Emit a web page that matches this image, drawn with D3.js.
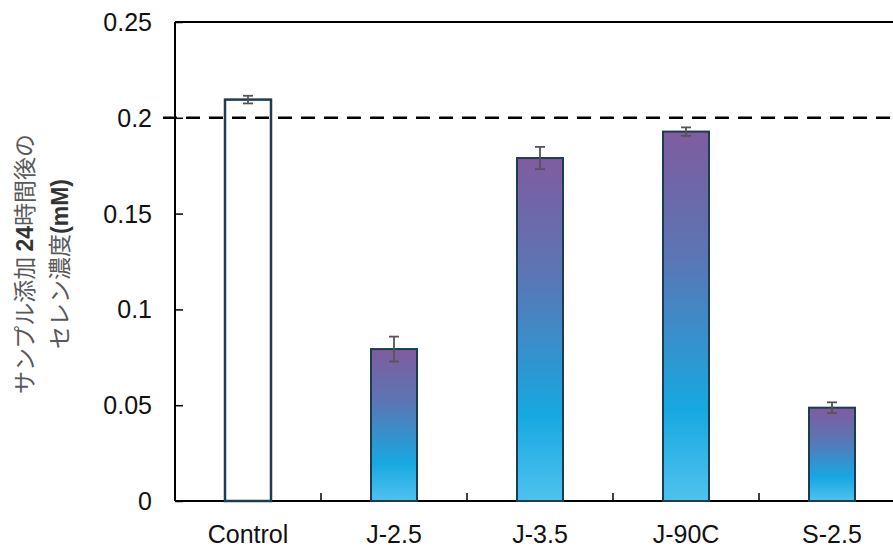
<!DOCTYPE html>
<meta charset="utf-8">
<head>
<style>
  body { margin: 0; background: #fff; }
  text { font-family: "Liberation Sans", Arial, sans-serif; }
  .jp { font-family: "Noto Sans CJK JP", sans-serif; fill: #595959; }
</style>
</head>
<body>
<div id="vis"></div>
<script src="https://d3js.org/d3.v7.min.js"></script>
<script>
// data
var categories = ["Control", "J-2.5", "J-3.5", "J-90C", "S-2.5"];
var values = [0.2095, 0.0793, 0.1790, 0.1928, 0.0487];
var errors = [0.0020, 0.0065, 0.0058, 0.0022, 0.0028];
var yTicks = [0, 0.05, 0.1, 0.15, 0.2, 0.25];
var refLine = 0.2;

var width = 893, height = 547;
var margin = {top: 22, left: 175, bottom: 46, right: -12};
var chartWidth = width - margin.left - margin.right,
    chartHeight = height - margin.top - margin.bottom;

var svg = d3.select("#vis").append("svg")
    .attr("width", width).attr("height", height);

var defs = svg.append("defs");
var grad = defs.append("linearGradient")
    .attr("id", "barGrad")
    .attr("x1", "0%").attr("y1", "0%").attr("x2", "0%").attr("y2", "100%");
grad.append("stop").attr("offset", "0%").attr("stop-color", "#7f5c9f");
grad.append("stop").attr("offset", "35%").attr("stop-color", "#5a76b5");
grad.append("stop").attr("offset", "75%").attr("stop-color", "#17a8e1");
grad.append("stop").attr("offset", "100%").attr("stop-color", "#4fc2ee");

var g = svg.append("g")
    .attr("transform", "translate(" + margin.left + "," + margin.top + ")");

var x = d3.scaleBand().domain(categories).range([0, chartWidth]).paddingInner(0).paddingOuter(0);
var y = d3.scaleLinear().domain([0, 0.25]).range([chartHeight, 0]);
var barW = 46;

// top frame line
g.append("line")
    .attr("x1", 0).attr("x2", chartWidth)
    .attr("y1", y(0.25)).attr("y2", y(0.25))
    .attr("stroke", "#000").attr("stroke-width", 2);

// y axis, ticks pointing inward
var yAxis = g.append("g")
    .call(d3.axisRight(y).tickValues(yTicks).tickSize(8).tickFormat(""));
yAxis.select(".domain").attr("stroke-width", 2).attr("d", "M0," + y(0.25) + "V" + y(0));
yAxis.selectAll(".tick line").attr("stroke-width", 1.5);

g.selectAll(".ylab").data(yTicks).enter().append("text")
    .attr("class", "ylab")
    .attr("x", -23).attr("y", function(d) { return y(d); })
    .attr("dy", "0.36em")
    .attr("text-anchor", "end")
    .attr("font-size", "25px")
    .attr("fill", "#111")
    .text(function(d) { return d; });

// x axis, ticks between categories pointing inward
g.append("line")
    .attr("x1", 0).attr("x2", chartWidth)
    .attr("y1", y(0)).attr("y2", y(0))
    .attr("stroke", "#000").attr("stroke-width", 2);
g.selectAll(".xtick").data(categories.slice(1)).enter().append("line")
    .attr("x1", function(d) { return x(d); }).attr("x2", function(d) { return x(d); })
    .attr("y1", y(0)).attr("y2", y(0) - 8)
    .attr("stroke", "#000").attr("stroke-width", 1.5);

g.selectAll(".xlab").data(categories).enter().append("text")
    .attr("x", function(d) { return x(d) + x.bandwidth() / 2; })
    .attr("y", chartHeight + 42)
    .attr("text-anchor", "middle")
    .attr("font-size", "25px")
    .attr("fill", "#111")
    .text(function(d) { return d; });

// bars
g.selectAll(".bar").data(values).enter().append("rect")
    .attr("x", function(d, i) { return x(categories[i]) + (x.bandwidth() - barW) / 2; })
    .attr("y", function(d) { return y(d); })
    .attr("width", barW)
    .attr("height", function(d) { return chartHeight - y(d); })
    .attr("fill", function(d, i) { return i === 0 ? "#fff" : "url(#barGrad)"; })
    .attr("stroke", "#1d3c50")
    .attr("stroke-width", function(d, i) { return i === 0 ? 2.5 : 2; });

// dashed reference line
g.append("line")
    .attr("x1", -12).attr("x2", chartWidth)
    .attr("y1", y(refLine)).attr("y2", y(refLine))
    .attr("stroke", "#000").attr("stroke-width", 2.5)
    .attr("stroke-dasharray", "14,9");

// error bars
var eb = g.selectAll(".err").data(values).enter().append("g")
    .attr("transform", function(d, i) { return "translate(" + (x(categories[i]) + x.bandwidth() / 2) + ",0)"; });
eb.append("line")
    .attr("y1", function(d, i) { return y(d + errors[i]); })
    .attr("y2", function(d, i) { return y(d - errors[i]); })
    .attr("stroke", "#555").attr("stroke-width", 1.8);
eb.append("line")
    .attr("x1", -5).attr("x2", 5)
    .attr("y1", function(d, i) { return y(d + errors[i]); })
    .attr("y2", function(d, i) { return y(d + errors[i]); })
    .attr("stroke", "#555").attr("stroke-width", 1.8);
eb.append("line")
    .attr("x1", -5).attr("x2", 5)
    .attr("y1", function(d, i) { return y(d - errors[i]); })
    .attr("y2", function(d, i) { return y(d - errors[i]); })
    .attr("stroke", "#555").attr("stroke-width", 1.8);

// y axis title, two lines
var title = svg.append("text")
    .attr("transform", "translate(25,264) rotate(-90)")
    .attr("text-anchor", "middle")
    .attr("font-size", "23px");
var l1 = title.append("tspan").attr("x", 0).attr("dy", "0.35em");
l1.append("tspan").attr("class", "jp").text("サンプル添加 ");
l1.append("tspan").attr("font-weight", "bold").attr("fill", "#333").text("24");
l1.append("tspan").attr("class", "jp").text("時間後の");
var l2 = title.append("tspan").attr("x", 0).attr("dy", 35);
l2.append("tspan").attr("class", "jp").text("セレン濃度");
l2.append("tspan").attr("font-weight", "bold").attr("fill", "#333").text("(mM)");
</script>
</body>
